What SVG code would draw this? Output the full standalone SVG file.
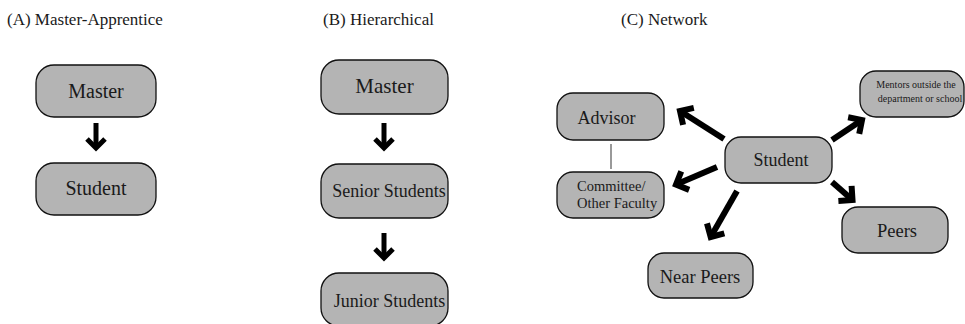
<svg xmlns="http://www.w3.org/2000/svg" width="965" height="324" viewBox="0 0 965 324" font-family="'Liberation Serif', 'DejaVu Serif', serif">
<style>
text{font-family:'Liberation Serif','DejaVu Serif',serif;fill:#1a1a1a}
.title{font-size:17px}
.box{fill:#b4b4b4;stroke:#111;stroke-width:1.3}
.lbl{font-size:19px;text-anchor:middle}
.arr{fill:none;stroke:#000;stroke-width:5;marker-end:url(#chev)}
.arr6{fill:none;stroke:#000;stroke-width:6;marker-end:url(#chev6)}
</style>
<defs>
<marker id="chev" markerUnits="userSpaceOnUse" orient="auto" refX="0" refY="0" markerWidth="30" markerHeight="30" overflow="visible">
<path d="M-9,-9 L0,0 L-9,9" fill="none" stroke="#000" stroke-width="5" stroke-linejoin="miter"/>
</marker>
<marker id="chev6" markerUnits="userSpaceOnUse" orient="auto" refX="0" refY="0" markerWidth="30" markerHeight="30" overflow="visible">
<path d="M-10,-10 L0,0 L-10,10" fill="none" stroke="#000" stroke-width="6" stroke-linejoin="miter"/>
</marker>
</defs>

<text class="title" x="7" y="25">(A) Master-Apprentice</text>
<text class="title" x="323" y="25">(B) Hierarchical</text>
<text class="title" x="621" y="25">(C) Network</text>

<g id="connectors">
<path class="arr" d="M96,123 L96,148"/>
<path class="arr" d="M384,123 L384,148"/>
<path class="arr" d="M384,233 L384,258"/>
<path class="arr6" d="M724,139 L680,111"/>
<path class="arr6" d="M717,167 L676,184.6"/>
<path class="arr6" d="M737,191 L710.7,237"/>
<path class="arr6" d="M832,140 L862,120"/>
<path class="arr6" d="M832,182 L852.5,200"/>
<line x1="611" y1="144" x2="611" y2="169" stroke="#555" stroke-width="1.2"/>
</g>

<g id="a-master"><rect class="box" x="36" y="65" width="120" height="52" rx="18"/><text class="lbl" x="96" y="98" style="font-size:20px">Master</text></g>
<g id="a-student"><rect class="box" x="36" y="163" width="120" height="52" rx="18"/><text class="lbl" x="96" y="195" style="font-size:20px">Student</text></g>

<g id="b-master"><rect class="box" x="321" y="60" width="127" height="54" rx="18"/><text class="lbl" x="384.5" y="93" style="font-size:21px">Master</text></g>
<g id="b-senior"><rect class="box" x="321" y="164" width="127" height="54" rx="18"/><text class="lbl" x="389" y="197" style="font-size:18px">Senior Students</text></g>
<g id="b-junior"><rect class="box" x="321" y="273" width="127" height="53" rx="18"/><text class="lbl" x="389.5" y="307" style="font-size:18px">Junior Students</text></g>

<g id="c-advisor"><rect class="box" x="557" y="93" width="107" height="47" rx="16"/><text class="lbl" x="606.5" y="124" style="font-size:18px">Advisor</text></g>
<g id="c-committee"><rect class="box" x="557" y="172" width="107" height="46" rx="16"/><text x="577" y="191" style="font-size:14.5px">Committee/</text><text x="577" y="208" style="font-size:14.5px">Other Faculty</text></g>
<g id="c-student"><rect class="box" x="725" y="137" width="107" height="46" rx="16"/><text class="lbl" x="781" y="166" style="font-size:18px">Student</text></g>
<g id="c-mentors"><rect class="box" x="860" y="71" width="104" height="46" rx="16"/><text class="lbl" x="916" y="88" style="font-size:10px">Mentors outside the</text><text class="lbl" x="920" y="102" style="font-size:10px">department or school</text></g>
<g id="c-peers"><rect class="box" x="842" y="207" width="106" height="46" rx="16"/><text class="lbl" x="897" y="237" style="font-size:18.5px">Peers</text></g>
<g id="c-nearpeers"><rect class="box" x="648" y="253" width="105" height="45" rx="16"/><text class="lbl" x="700" y="283" style="font-size:18.5px">Near Peers</text></g>
</svg>
